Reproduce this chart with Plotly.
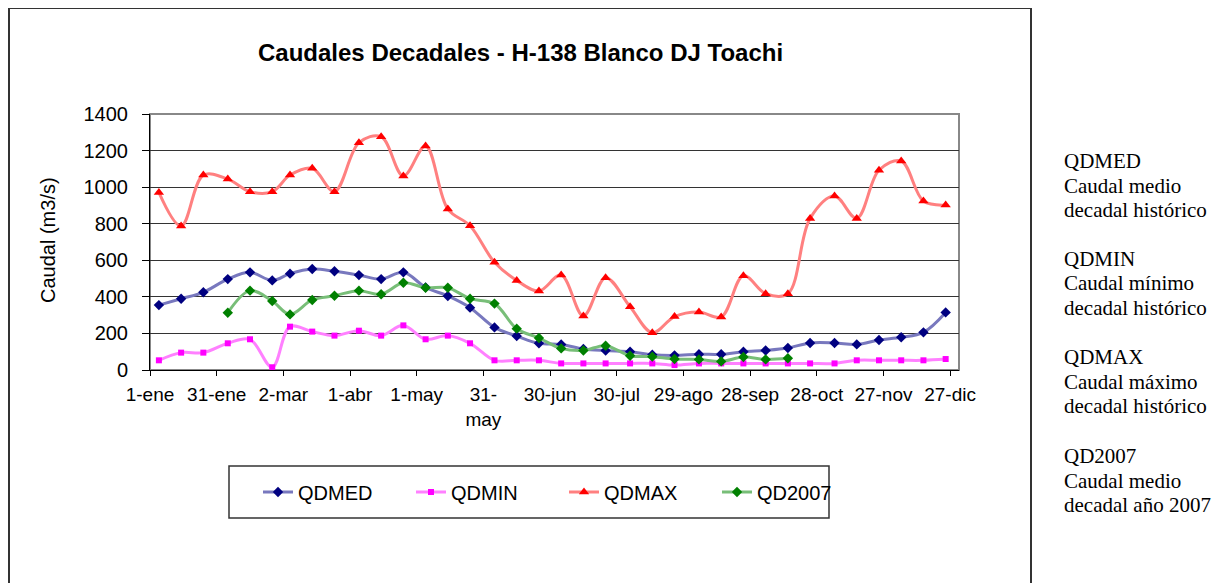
import plotly.graph_objects as go

# ---------------- data ----------------
meses = list(range(1, 13))
dias_decada = [5, 15, 25]
fechas = [f"2007-{m:02d}-{d:02d}" for m in meses for d in dias_decada]

qdmed = [355, 390, 425, 497, 534, 490, 527, 552, 540, 519, 497, 534,
         452, 405, 341, 233, 186, 146, 140, 115, 106, 100, 84, 80,
         86, 86, 100, 107, 120, 148, 148, 140, 164, 179, 206, 315]
qdmin = [53, 95, 95, 146, 168, 15, 237, 210, 188, 215, 188, 244,
         168, 188, 146, 53, 53, 53, 36, 36, 36, 36, 36, 27,
         36, 36, 36, 36, 36, 36, 36, 53, 53, 53, 53, 60]
qdmax = [971, 787, 1066, 1044, 975, 975, 1066, 1103, 975, 1243, 1276, 1061,
         1225, 880, 789, 589, 490, 432, 519, 295, 505, 346, 204, 292,
         317, 290, 516, 417, 417, 829, 951, 829, 1093, 1143, 924, 902]
qd2007 = [None, None, None, 313, 434, 377, 304, 383, 406, 434, 414, 477,
          450, 450, 390, 363, 226, 175, 118, 107, 133, 78, 73, 60,
          58, 47, 71, 58, 64, None, None, None, None, None, None, None]

tick_fechas = ["2007-01-01", "2007-01-31", "2007-03-02", "2007-04-01", "2007-05-01",
               "2007-05-31", "2007-06-30", "2007-07-30", "2007-08-29", "2007-09-28",
               "2007-10-28", "2007-11-27", "2007-12-27"]
tick_textos = ["1-ene", "31-ene", "2-mar", "1-abr", "1-may", "31-<br>may", "30-jun",
               "30-jul", "29-ago", "28-sep", "28-oct", "27-nov", "27-dic"]
y_ticks = [0, 200, 400, 600, 800, 1000, 1200, 1400]

titulo = "Caudales Decadales - H-138 Blanco DJ Toachi"
y_titulo = "Caudal (m3/s)"
notas = [["QDMED", "Caudal medio", "decadal histórico"],
         ["QDMIN", "Caudal mínimo", "decadal histórico"],
         ["QDMAX", "Caudal máximo", "decadal histórico"],
         ["QD2007", "Caudal medio", "decadal año 2007"]]

# ---------------- figure ----------------
OX, OY = 8, 8          # page body margin
W, H = 1220, 575
def px(x):
    return (x - OX) / W
def py(y):
    return 1 - (y - OY) / H

series = [
    ("QDMED", qdmed, "rgb(120,120,190)", "#000080", "diamond", 8),
    ("QDMIN", qdmin, "rgb(255,128,255)", "#ff00ff", "square", 6),
    ("QDMAX", qdmax, "rgb(255,128,128)", "#ff0000", "triangle-up", 9),
    ("QD2007", qd2007, "rgb(120,190,120)", "#008000", "diamond", 8),
]

fig = go.Figure()
for name, vals, lc, mc, sym, ms in series:
    fig.add_trace(go.Scatter(
        x=fechas, y=vals, name=name, mode="lines+markers",
        line=dict(color=lc, width=3, shape="spline", smoothing=1.0),
        marker=dict(color=mc, symbol=sym, size=ms, line=dict(width=0)),
        connectgaps=False,
    ))

font_sans = "Liberation Sans, Arial, sans-serif"
font_serif = "Liberation Serif, Times New Roman, serif"

fig.update_layout(
    width=W, height=H, autosize=False,
    margin=dict(l=0, r=0, t=0, b=0, pad=0, autoexpand=False),
    paper_bgcolor="white", plot_bgcolor="white",
    font=dict(family=font_sans, color="black"),
    showlegend=True,
    legend=dict(orientation="h", x=px(258), xanchor="left",
                y=py(492), yanchor="middle", bgcolor="rgba(0,0,0,0)",
                borderwidth=0, font=dict(family=font_sans, size=20),
                entrywidth=108, entrywidthmode="pixels"),
    xaxis=dict(
        type="date", domain=[px(150), px(959)], automargin=False,
        range=["2007-01-01", "2007-12-31"],
        tickvals=tick_fechas, ticktext=tick_textos,
        tickfont=dict(family=font_sans, size=19),
        showgrid=False, showline=True, linecolor="black", linewidth=1,
        ticks="outside", ticklen=5, tickcolor="black", zeroline=False,
        ticklabelstandoff=2,
    ),
    yaxis=dict(
        domain=[py(370), py(114)], range=[0, 1400], automargin=False,
        tickvals=y_ticks, tickfont=dict(family=font_sans, size=20),
        showgrid=True, gridcolor="#333333", gridwidth=1,
        showline=True, linecolor="black", linewidth=1,
        ticks="outside", ticklen=7, tickcolor="black", zeroline=False,
        ticklabelstandoff=10,
    ),
)

# title
fig.add_annotation(text="<b>" + titulo + "</b>", x=px(520), y=py(52),
                   xref="paper", yref="paper", showarrow=False,
                   xanchor="center", yanchor="middle",
                   font=dict(family=font_sans, size=24, color="black"))
# y axis title
fig.add_annotation(text=y_titulo, x=px(48), y=py(240), xref="paper", yref="paper",
                   textangle=-90, showarrow=False, xanchor="center", yanchor="middle",
                   font=dict(family=font_sans, size=20, color="black"))

# plot area border (top/right gray)
fig.add_shape(type="rect", xref="x domain", yref="y domain", x0=0, x1=1, y0=0, y1=1,
              line=dict(color="#888888", width=2), layer="below")
# chart area border
fig.add_shape(type="rect", xref="paper", yref="paper", x0=px(9), x1=px(1031),
              y0=-0.1, y1=py(8), line=dict(color="#333333", width=2))
# legend box
fig.add_shape(type="rect", xref="paper", yref="paper", x0=px(229), x1=px(829),
              y0=py(518), y1=py(466), line=dict(color="#333333", width=1.5))

# side notes
bloque_y = [161, 259, 357, 456]
for b, lineas in enumerate(notas):
    for i, t in enumerate(lineas):
        fig.add_annotation(text=t, x=px(1062), y=py(bloque_y[b] + 24.5 * i),
                           xref="paper", yref="paper", xanchor="left", yanchor="middle",
                           showarrow=False,
                           font=dict(family=font_serif, size=21, color="black"))

fig.write_html("out.html")
